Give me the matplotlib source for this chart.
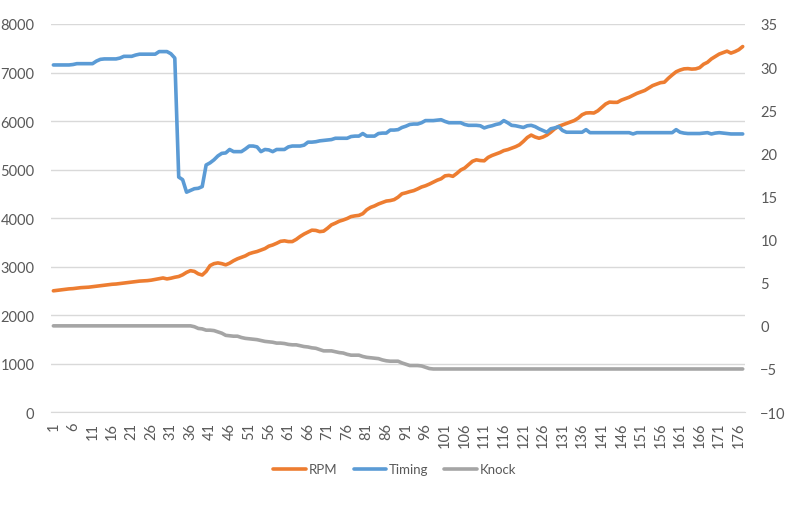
import matplotlib
matplotlib.use("Agg")
import matplotlib.pyplot as plt
import numpy as np

plt.rcParams['font.family'] = ['Lato', 'DejaVu Sans']

# --- data: 177 samples ---
rpm = [
    2500, 2510, 2520, 2530, 2540, 2545, 2555, 2565, 2570, 2575,
    2585, 2595, 2605, 2615, 2625, 2635, 2640, 2650, 2660, 2670,
    2680, 2690, 2700, 2705, 2710, 2720, 2735, 2750, 2765, 2745,
    2760, 2780, 2795, 2830, 2880, 2915, 2900, 2850, 2825, 2900,
    3020, 3060, 3075, 3060, 3035, 3070, 3120, 3160, 3190, 3220,
    3265, 3290, 3310, 3340, 3370, 3420, 3445, 3480, 3520, 3530,
    3515, 3515, 3560, 3620, 3670, 3710, 3750, 3745, 3720, 3730,
    3790, 3860, 3895, 3935, 3960, 3990, 4030, 4045, 4055, 4090,
    4170, 4220, 4250, 4290, 4320, 4350, 4360, 4380, 4430, 4500,
    4520, 4545, 4565, 4600, 4640, 4665, 4700, 4740, 4780, 4810,
    4870, 4880, 4860, 4920, 4990, 5030, 5100, 5170, 5200, 5185,
    5180, 5250, 5290, 5320, 5350, 5390, 5410, 5440, 5470, 5510,
    5580, 5660, 5710, 5670, 5645, 5670, 5710, 5770, 5840, 5890,
    5920, 5950, 5980, 6010, 6060, 6130, 6165, 6170, 6165, 6210,
    6280, 6350, 6390, 6385, 6385, 6430, 6460, 6490, 6530, 6570,
    6600, 6630, 6680, 6730, 6760, 6790, 6800, 6880, 6950, 7015,
    7050, 7075, 7080, 7070, 7075, 7100, 7170, 7210, 7280, 7330,
    7380, 7410, 7440, 7400, 7430, 7470, 7535,
]

timing = [
    30.25, 30.25, 30.25, 30.25, 30.25, 30.3, 30.4, 30.4, 30.4, 30.4,
    30.4, 30.7, 30.9, 30.95, 30.95, 30.95, 30.95, 31.05, 31.25, 31.25,
    31.25, 31.4, 31.5, 31.5, 31.5, 31.5, 31.5, 31.8, 31.8, 31.8,
    31.55, 31.05, 17.25, 16.95, 15.5, 15.7, 15.9, 15.95, 16.15, 18.65,
    18.9, 19.25, 19.7, 20.0, 20.05, 20.45, 20.2, 20.2, 20.2, 20.5,
    20.85, 20.85, 20.75, 20.2, 20.45, 20.4, 20.2, 20.45, 20.45, 20.45,
    20.75, 20.85, 20.85, 20.85, 20.95, 21.3, 21.3, 21.35, 21.45, 21.5,
    21.55, 21.6, 21.75, 21.75, 21.75, 21.75, 21.95, 22.0, 22.0, 22.3,
    22.0, 22.0, 22.0, 22.3, 22.35, 22.35, 22.7, 22.7, 22.75, 23.0,
    23.15, 23.35, 23.4, 23.4, 23.55, 23.8, 23.8, 23.8, 23.85, 23.9,
    23.7, 23.55, 23.55, 23.55, 23.55, 23.35, 23.25, 23.25, 23.25, 23.2,
    22.95, 23.1, 23.2, 23.35, 23.45, 23.8, 23.55, 23.25, 23.2, 23.1,
    23.0, 23.2, 23.25, 23.1, 22.85, 22.65, 22.45, 22.85, 22.95, 23.1,
    22.65, 22.45, 22.45, 22.45, 22.45, 22.45, 22.75, 22.4, 22.4, 22.4,
    22.4, 22.4, 22.4, 22.4, 22.4, 22.4, 22.4, 22.4, 22.25, 22.4,
    22.4, 22.4, 22.4, 22.4, 22.4, 22.4, 22.4, 22.4, 22.4, 22.75,
    22.45, 22.35, 22.3, 22.3, 22.3, 22.3, 22.35, 22.4, 22.25, 22.35,
    22.4, 22.35, 22.3, 22.25, 22.25, 22.25, 22.25,
]

knock = [0.0] * 36 + [
    -0.1, -0.3, -0.35, -0.5, -0.5, -0.55, -0.7, -0.85, -1.1, -1.15,
    -1.2, -1.2, -1.35, -1.45, -1.5, -1.55, -1.6, -1.7, -1.8, -1.85,
    -1.9, -2.0, -2.0, -2.05, -2.15, -2.2, -2.2, -2.3, -2.4, -2.45,
    -2.55, -2.6, -2.75, -2.9, -2.9, -2.9, -3.0, -3.1, -3.15, -3.3,
    -3.4, -3.4, -3.4, -3.55, -3.65, -3.7, -3.75, -3.8, -3.95, -4.05,
    -4.1, -4.1, -4.1, -4.3, -4.45, -4.6, -4.6, -4.6, -4.65, -4.8,
    -4.95,
] + [-5.0] * 80

samples = np.arange(1, len(rpm) + 1)

TEXT = '#595959'
GRID = '#d9d9d9'
FS = 10.5

fig = plt.figure(figsize=(7.9, 5.1), dpi=100)
ax = fig.add_axes([0.0646, 0.19, 0.8785, 0.761])
ax2 = ax.twinx()

ax.plot(samples, rpm, color='#ED7D31', lw=2.6, label='RPM', solid_capstyle='round')
ax2.plot(samples, timing, color='#5B9BD5', lw=2.6, label='Timing', solid_capstyle='round')
ax2.plot(samples, knock, color='#A5A5A5', lw=2.6, label='Knock', solid_capstyle='round')

ax.set_xlim(0.4, 177.6)
ax.set_ylim(0, 8000)
ax.set_yticks(np.arange(0, 8001, 1000))
ax.grid(axis='y', color=GRID, lw=1)
ax.set_axisbelow(True)
ax2.set_ylim(-10, 35)
ax2.set_yticks(np.arange(-10, 36, 5))

ticks = samples[::5]
ax.set_xticks(ticks)
ax.set_xticklabels([str(t) for t in ticks], rotation=90, va='top')

for a in (ax, ax2):
    for s in a.spines.values():
        s.set_visible(False)
ax.spines['bottom'].set_visible(True)
ax.spines['bottom'].set_color(GRID)

ax.tick_params(axis='y', length=0, pad=12, labelsize=FS, labelcolor=TEXT)
ax.tick_params(axis='x', length=0, pad=7, labelsize=FS, labelcolor=TEXT)
ax2.tick_params(axis='y', length=0, pad=11, labelsize=FS, labelcolor=TEXT)

h1, l1 = ax.get_legend_handles_labels()
h2, l2 = ax2.get_legend_handles_labels()
fig.legend(h1 + h2, l1 + l2, loc='center', bbox_to_anchor=(0.5, 0.078), ncol=3,
           frameon=False, fontsize=9.5, labelcolor=TEXT, handlelength=2.5,
           handletextpad=0.2, columnspacing=1.2)

fig.savefig('out.png', dpi=100)
